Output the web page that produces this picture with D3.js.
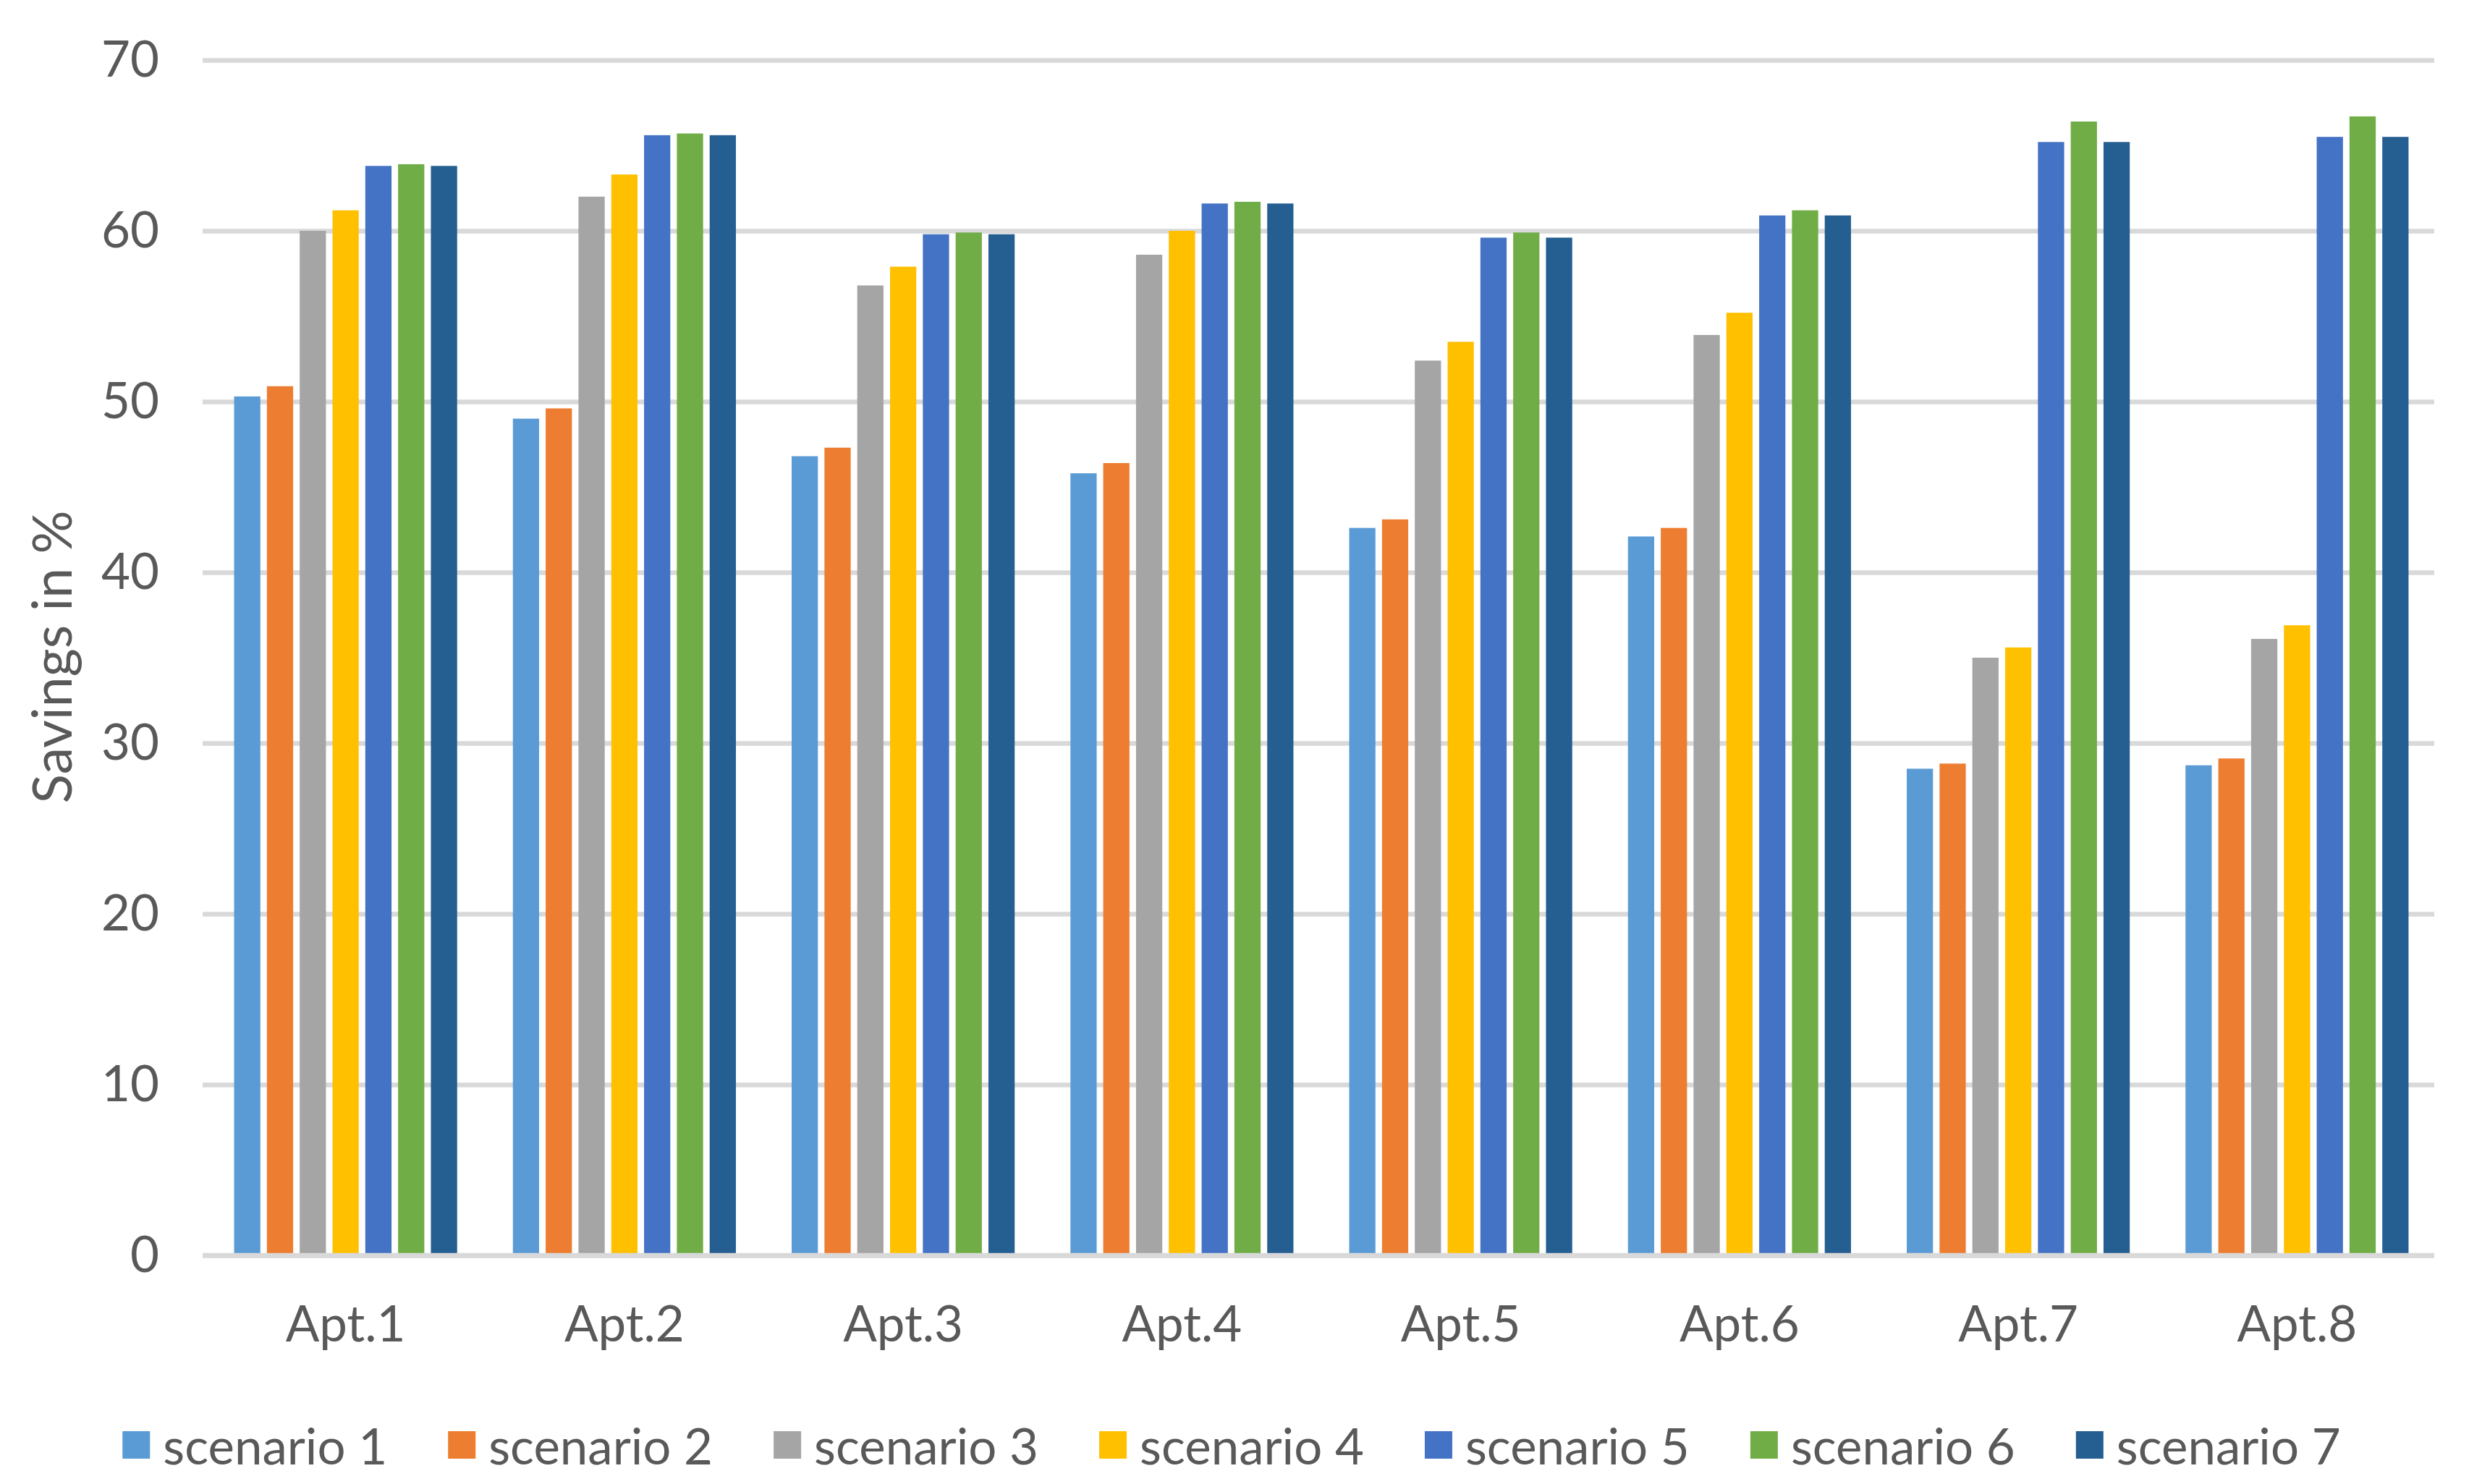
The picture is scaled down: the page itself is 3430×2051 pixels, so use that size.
<!DOCTYPE html>
<html>
<head>
<meta charset="utf-8">
<script src="https://cdn.jsdelivr.net/npm/d3@7"></script>
<style>
  body { margin: 0; background: #fff; }
  text { font-family: Lato, "Open Sans", sans-serif; fill: #595959; }
</style>
</head>
<body>
<svg id="chart" width="3430" height="2051"></svg>
<script>
var apartments = ["Apt.1", "Apt.2", "Apt.3", "Apt.4", "Apt.5", "Apt.6", "Apt.7", "Apt.8"];
var scenarios = ["scenario 1", "scenario 2", "scenario 3", "scenario 4", "scenario 5", "scenario 6", "scenario 7"];
var scenario1 = [50.3, 49.0, 46.8, 45.8, 42.6, 42.1, 28.5, 28.7];
var scenario2 = [50.9, 49.6, 47.3, 46.4, 43.1, 42.6, 28.8, 29.1];
var scenario3 = [60.0, 62.0, 56.8, 58.6, 52.4, 53.9, 35.0, 36.1];
var scenario4 = [61.2, 63.3, 57.9, 60.0, 53.5, 55.2, 35.6, 36.9];
var scenario5 = [63.8, 65.6, 59.8, 61.6, 59.6, 60.9, 65.2, 65.5];
var scenario6 = [63.9, 65.7, 59.9, 61.7, 59.9, 61.2, 66.4, 66.7];
var scenario7 = [63.8, 65.6, 59.8, 61.6, 59.6, 60.9, 65.2, 65.5];
var yTicks = [0, 10, 20, 30, 40, 50, 60, 70];
var colors = ["#5B9BD5", "#ED7D31", "#A5A5A5", "#FFC000", "#4472C4", "#70AD47", "#255E91"];

var series = [scenario1, scenario2, scenario3, scenario4, scenario5, scenario6, scenario7];

var svg = d3.select("#chart");
var plotLeft = 280, plotRight = 3364, plotTop = 83, plotBottom = 1735;
var fontSize = 69;

var x0 = d3.scaleBand()
           .domain(apartments)
           .range([plotLeft + 5, plotRight + 3])
           .paddingInner(0.2)
           .paddingOuter(0.1);
var x1 = d3.scaleBand()
           .domain(d3.range(scenarios.length))
           .range([0, x0.bandwidth()])
           .paddingInner(0.2);
var y = d3.scaleLinear()
          .domain([0, 70])
          .range([plotBottom, plotTop]);

//gridlines + y labels
var yAxis = d3.axisLeft(y)
              .tickValues(yTicks)
              .tickSize(-(plotRight - plotLeft))
              .tickPadding(60);
var yg = svg.append("g")
            .attr("transform", "translate(" + plotLeft + ",0)")
            .call(yAxis);
yg.select(".domain").remove();
yg.selectAll("line").attr("stroke", "#d9d9d9").attr("stroke-width", 6.5);
yg.selectAll("text")
  .attr("font-size", fontSize)
  .attr("fill", "#595959")
  .style("font-family", "Lato, 'Open Sans', sans-serif");

//bars
var groups = svg.append("g")
                .selectAll("g")
                .data(apartments)
                .enter()
                .append("g")
                .attr("transform", function(d){ return "translate(" + x0(d) + ",0)"; });
groups.selectAll("rect")
      .data(function(d, i){
        return series.map(function(s, j){ return {k: j, v: s[i]}; });
      })
      .enter()
      .append("rect")
      .attr("x", function(d){ return x1(d.k); })
      .attr("width", x1.bandwidth())
      .attr("y", function(d){ return y(d.v); })
      .attr("height", function(d){ return y(0) - y(d.v) - 3; })
      .attr("fill", function(d){ return colors[d.k]; });

// baseline drawn over bars bottom
svg.append("line")
   .attr("x1", plotLeft).attr("x2", plotRight)
   .attr("y1", y(0)).attr("y2", y(0))
   .attr("stroke", "#d9d9d9").attr("stroke-width", 6.5);

//x labels
var xAxis = d3.axisBottom(x0).tickSize(0).tickPadding(70);
var xg = svg.append("g")
            .attr("transform", "translate(0," + plotBottom + ")")
            .call(xAxis);
xg.select(".domain").remove();
xg.selectAll("text")
  .attr("font-size", fontSize)
  .attr("fill", "#595959")
  .style("font-family", "Lato, 'Open Sans', sans-serif");

//y title
svg.append("text")
   .attr("transform", "translate(70," + 908 + ") rotate(-90)")
   .attr("text-anchor", "middle")
   .attr("dominant-baseline", "central")
   .attr("font-size", 75)
   .text("Savings in %");

//legend
var legend = svg.append("g");
var items = legend.selectAll("g")
                  .data(scenarios)
                  .enter()
                  .append("g");
items.append("rect")
     .attr("width", 38).attr("height", 38)
     .attr("y", -19)
     .attr("fill", function(d, i){ return colors[i]; });
items.append("text")
     .attr("x", 56)
     .attr("dominant-baseline", "central")
     .attr("font-size", fontSize)
     .text(function(d){ return d; });
var gap = 84;
var pos = 0;
items.each(function(){
  var w = this.getBBox().width;
  d3.select(this).attr("transform", "translate(" + pos + ",0)");
  pos += w + gap;
});
var total = pos - gap;
legend.attr("transform", "translate(" + (1702 - total / 2) + ",1997)");
</script>
</body>
</html>
